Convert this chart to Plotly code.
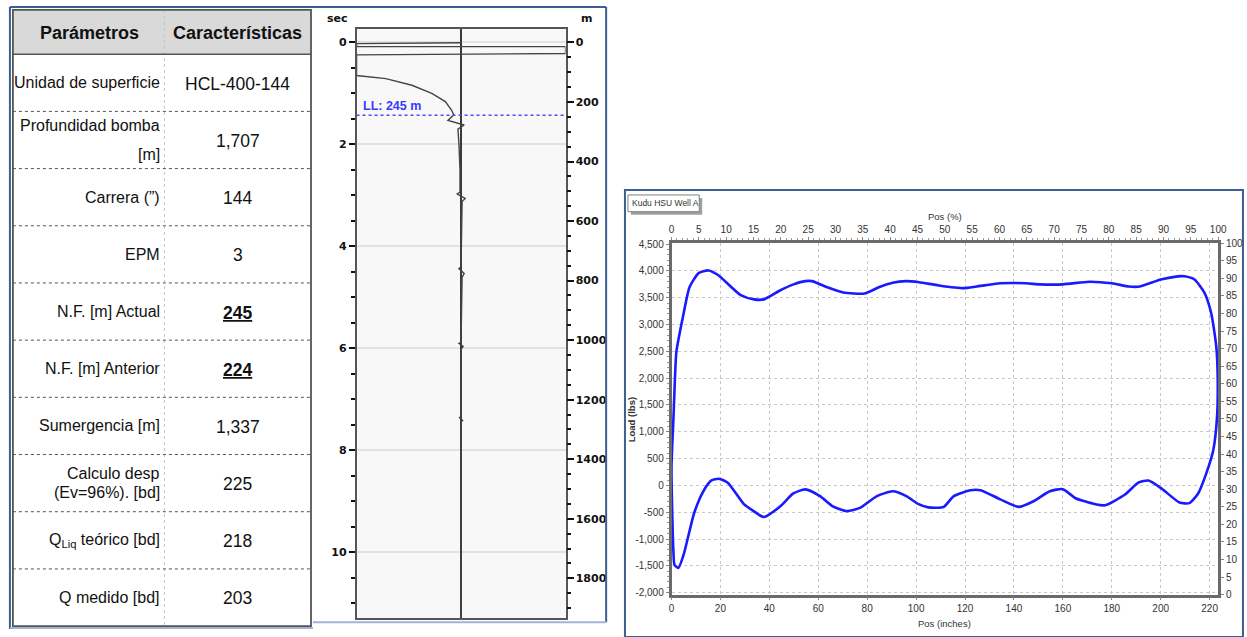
import plotly.graph_objects as go

W, H = 1247, 637

# ---------------- data ----------------
table_headers = ["Parámetros", "Características"]
param_labels = ["Unidad de superficie", "Profundidad bomba<br>[m]", "Carrera (”)", "EPM",
                "N.F. [m] Actual", "N.F. [m] Anterior", "Sumergencia [m]",
                "Calculo desp<br>(Ev=96%). [bd]", "Q<sub>Liq</sub> teórico [bd]", "Q medido [bd]"]
param_values = ["HCL-400-144", "1,707", "144", "3", "245", "224", "1,337", "225", "218", "203"]

# acoustic (echometer) trace: amplitude (normalised) vs time (sec)
echo_amp = [0.0, -1.0, -1.0, 1.0, 1.0, -1.0, -1.0, -0.72, -0.47, -0.28, -0.15, -0.09, -0.07,
            -0.125, 0.03, -0.03, -0.02, -0.01, -0.01, -0.04, 0.04, 0.01, 0.0, -0.02, 0.03, 0.01,
            0.0, -0.02, 0.02, 0.0, 0.0, -0.015, 0.015, 0.0, 0.0]
echo_sec = [0.006, 0.025, 0.083, 0.083, 0.218, 0.245, 0.65, 0.71, 0.84, 1.00, 1.16, 1.33, 1.42,
            1.53, 1.62, 1.70, 2.0, 2.5, 2.94, 2.97, 3.06, 3.12, 4.4, 4.44, 4.53, 4.61,
            5.88, 5.9, 5.96, 6.02, 7.33, 7.36, 7.41, 7.45, 11.29]
liquid_level_m = 245
liquid_level_label = "LL: 245 m"
sec_ticks = [0, 2, 4, 6, 8, 10]
m_ticks = [0, 200, 400, 600, 800, 1000, 1200, 1400, 1600, 1800]

# dynamometer card
card_title = "Kudu HSU Well A"
card_pos_in = [0, 0.8, 1.2, 2.0, 4.7, 7.4, 11.1, 15.1, 18.9, 28.3, 33.7, 37.8, 44.5, 49.9, 54.7,
               57.4, 63.4, 70.2, 78.9, 85.0, 90.4, 95.8, 101.2, 109.3, 119.4, 124.7, 134.4, 145.0,
               150.6, 160.0, 170.9, 180.0, 187.0, 191.5, 200.0, 207.0, 209.7, 213.8, 217.8, 220.6,
               222.7, 223.3, 223.0, 221.5, 218.6, 215.3, 211.7, 207.7, 200.4, 195.0, 191.0, 185.4,
               177.3, 173.3, 165.2, 160.0, 154.7, 147.8, 142.0, 134.4, 126.3, 122.3, 115.4, 111.3,
               105.0, 101.0, 96.0, 90.5, 84.0, 77.0, 71.7, 66.0, 60.7, 54.7, 49.8, 44.5, 37.7,
               33.6, 29.6, 23.0, 19.4, 16.2, 13.0, 9.3, 6.9, 4.9, 2.8, 1.2, 0.8, 0.4, 0]
card_load_lbs = [350, 1260, 1750, 2490, 3150, 3700, 3960, 4010, 3930, 3550, 3470, 3470, 3640, 3750,
                 3810, 3810, 3700, 3600, 3580, 3700, 3780, 3810, 3790, 3730, 3680, 3710, 3770, 3770,
                 3750, 3750, 3800, 3770, 3710, 3710, 3840, 3900, 3900, 3840, 3600, 3220, 2600, 2000,
                 1260, 660, 220, -150, -330, -320, -60, 90, 55, -170, -370, -350, -240, -70, -110,
                 -300, -400, -260, -90, -90, -200, -400, -410, -350, -200, -110, -200, -420, -480,
                 -390, -200, -75, -150, -390, -590, -480, -350, 50, 125, 90, -110, -510, -940,
                 -1300, -1540, -1480, -1250, -700, 350]
load_ticks = [-2000, -1500, -1000, -500, 0, 500, 1000, 1500, 2000, 2500, 3000, 3500, 4000, 4500]
load_ticklabels = [f"{v:,}" for v in load_ticks]
pos_ticks = [0, 20, 40, 60, 80, 100, 120, 140, 160, 180, 200, 220]
pct_ticks = list(range(0, 101, 5))

assert len(card_pos_in) == len(card_load_lbs)
assert len(echo_amp) == len(echo_sec)


# ---------------- layout helpers (pixel -> paper fraction) ----------------
def px(x):
    return x / W


def py(y):
    return 1 - y / H


BLUE = "#3c5e92"
LIGHTBLUE = "#9fb5d8"
GRID_DARK = "#555555"
SANS = "Liberation Sans, Arial"

fig = go.Figure()

# echometer trace
fig.add_trace(go.Scatter(x=echo_amp, y=echo_sec, xaxis="x", yaxis="y", mode="lines",
                         line=dict(color="#444444", width=1.4), showlegend=False, hoverinfo="skip"))
# dyna card
fig.add_trace(go.Scatter(x=card_pos_in, y=card_load_lbs, xaxis="x3", yaxis="y3", mode="lines",
                         line=dict(color="#1a1aff", width=2.6, shape="spline", smoothing=0.6),
                         showlegend=False, hoverinfo="skip"))
# register secondary axes
fig.add_trace(go.Scatter(x=[None], y=[None], xaxis="x", yaxis="y2", showlegend=False, hoverinfo="skip"))
fig.add_trace(go.Scatter(x=[None], y=[None], xaxis="x4", yaxis="y4", showlegend=False, hoverinfo="skip"))

shapes = []
annotations = []

# ---------- panel frames ----------
shapes += [
    dict(type="line", xref="paper", yref="paper", x0=px(7), x1=px(7), y0=py(2), y1=py(634),
         line=dict(color=BLUE, width=2)),
    dict(type="line", xref="paper", yref="paper", x0=px(7), x1=px(609), y0=py(2), y1=py(2),
         line=dict(color=BLUE, width=2)),
    dict(type="line", xref="paper", yref="paper", x0=px(7), x1=px(313), y0=py(633), y1=py(633),
         line=dict(color=LIGHTBLUE, width=2)),
    dict(type="line", xref="paper", yref="paper", x0=px(609), x1=px(609), y0=py(2), y1=py(627),
         line=dict(color=BLUE, width=2)),
    dict(type="line", xref="paper", yref="paper", x0=px(313), x1=px(609), y0=py(627), y1=py(627),
         line=dict(color=LIGHTBLUE, width=2)),
    dict(type="rect", xref="paper", yref="paper", x0=px(628), x1=px(1252), y0=py(188), y1=py(642),
         line=dict(color=BLUE, width=2)),
]

# ---------- table ----------
T_LEFT, T_RIGHT, T_TOP, T_HEAD, T_BOTTOM, T_COL = 10, 311, 5, 50, 631, 163
n_rows = len(param_labels)
row_h = (T_BOTTOM - T_HEAD) / n_rows
shapes.append(dict(type="rect", xref="paper", yref="paper", x0=px(T_LEFT), x1=px(T_RIGHT),
                   y0=py(T_TOP), y1=py(T_HEAD), fillcolor="#d9d9d9", line=dict(width=0), layer="below"))
shapes.append(dict(type="line", xref="paper", yref="paper", x0=px(T_COL), x1=px(T_COL),
                   y0=py(T_TOP), y1=py(T_BOTTOM), line=dict(color="#c4c4c4", width=1, dash="dot")))
for i in range(1, n_rows):
    yy = T_HEAD + i * row_h
    shapes.append(dict(type="line", xref="paper", yref="paper", x0=px(T_LEFT), x1=px(T_RIGHT),
                       y0=py(yy), y1=py(yy), line=dict(color="#555555", width=1, dash="dot")))
shapes.append(dict(type="line", xref="paper", yref="paper", x0=px(T_LEFT), x1=px(T_RIGHT),
                   y0=py(T_HEAD), y1=py(T_HEAD), line=dict(color="#555555", width=1.5)))
shapes.append(dict(type="rect", xref="paper", yref="paper", x0=px(T_LEFT), x1=px(T_RIGHT),
                   y0=py(T_TOP), y1=py(T_BOTTOM), line=dict(color="#555555", width=1.8)))

for txt, cx in zip(table_headers, [87, 237]):
    annotations.append(dict(xref="paper", yref="paper", x=px(cx), y=py(28),
                            text=f"<b>{txt}</b>", showarrow=False, xanchor="center", yanchor="middle",
                            font=dict(family=SANS, size=18, color="#111111")))

line_gap = {1: 29, 7: 19}
emphasised = {4, 5}
for i, (lab, val) in enumerate(zip(param_labels, param_values)):
    cy = T_HEAD + (i + 0.5) * row_h
    parts = lab.split("<br>")
    gap = line_gap.get(i, 0)
    for k, part in enumerate(parts):
        yy = cy + (k - (len(parts) - 1) / 2) * gap
        annotations.append(dict(xref="paper", yref="paper", x=px(161), y=py(yy), text=part,
                                showarrow=False, xanchor="right", yanchor="middle",
                                font=dict(family=SANS, size=16, color="#111111")))
    vtxt = f"<b><u>{val}</u></b>" if i in emphasised else val
    annotations.append(dict(xref="paper", yref="paper", x=px(237), y=py(cy + 1), text=vtxt,
                            showarrow=False, xanchor="center", yanchor="middle",
                            font=dict(family=SANS, size=17.5, color="#111111")))

# ---------- echometer ----------
shapes.append(dict(type="rect", xref="x domain", yref="y domain", x0=0, x1=1, y0=0, y1=1,
                   fillcolor="#f8f8f8", line=dict(width=0), layer="below"))
shapes.append(dict(type="line", xref="x domain", yref="y2", x0=0, x1=1,
                   y0=liquid_level_m, y1=liquid_level_m,
                   line=dict(color="#4a4aff", width=1.5, dash="dot")))
annotations.append(dict(xref="x domain", yref="y2", x=0.02, y=liquid_level_m,
                        text=f"<b>{liquid_level_label}</b>",
                        showarrow=False, xanchor="left", yanchor="bottom",
                        font=dict(family=SANS, size=12.5, color="#3a3aff")))
annotations.append(dict(xref="paper", yref="paper", x=px(338), y=py(14), text="<b>sec</b>", showarrow=False,
                        xanchor="center", yanchor="middle", font=dict(family="DejaVu Sans", size=11, color="#111")))
annotations.append(dict(xref="paper", yref="paper", x=px(589), y=py(14), text="<b>m</b>", showarrow=False,
                        xanchor="center", yanchor="middle", font=dict(family="DejaVu Sans", size=11, color="#111")))

echo_tickfont = dict(family="DejaVu Sans", size=11, color="#111111", weight="bold")

# ---------- dyna card decorations ----------
shapes.append(dict(type="rect", xref="paper", yref="paper", x0=px(634), x1=px(706), y0=py(196), y1=py(213),
                   fillcolor="#a0a0a0", line=dict(width=0)))
shapes.append(dict(type="rect", xref="paper", yref="paper", x0=px(631), x1=px(703), y0=py(193), y1=py(210),
                   fillcolor="white", line=dict(color="#808080", width=1)))
annotations.append(dict(xref="paper", yref="paper", x=px(633), y=py(201.5), text=card_title, showarrow=False,
                        xanchor="left", yanchor="middle", font=dict(family=SANS, size=8.5, color="#333")))
annotations.append(dict(xref="paper", yref="paper", x=px(951), y=py(215), text="Pos (%)", showarrow=False,
                        xanchor="center", yanchor="middle", font=dict(family=SANS, size=9.5, color="#333")))
annotations.append(dict(xref="paper", yref="paper", x=px(951), y=py(628), text="Pos (inches)", showarrow=False,
                        xanchor="center", yanchor="middle", font=dict(family=SANS, size=9.5, color="#333")))
annotations.append(dict(xref="paper", yref="paper", x=px(634), y=py(421), text="<b>Load (lbs)</b>",
                        showarrow=False, textangle=-90, xanchor="center", yanchor="middle",
                        font=dict(family=SANS, size=9.5, color="#333")))

card_tickfont = dict(family=SANS, size=10, color="#333333")
FRAME = "#6a6a6a"

fig.update_layout(
    width=W, height=H, margin=dict(l=0, r=0, t=0, b=0),
    paper_bgcolor="white", plot_bgcolor="rgba(0,0,0,0)",
    showlegend=False,
    shapes=shapes, annotations=annotations,
    xaxis=dict(domain=[px(357), px(568)], anchor="y", range=[-1, 1], showticklabels=False, ticks="",
               showgrid=False, zeroline=True, zerolinecolor="#3a3a3a", zerolinewidth=1.5,
               showline=True, mirror=True, linecolor=GRID_DARK, linewidth=1.5, fixedrange=True),
    yaxis=dict(domain=[py(623), py(24)], anchor="x", range=[11.29, -0.27], tickvals=sec_ticks,
               ticks="outside", ticklen=6, tickwidth=2, tickcolor="#111", tickfont=echo_tickfont,
               showgrid=True, gridcolor="#e2e2e2", gridwidth=2, zeroline=False,
               showline=True, mirror=True, linecolor=GRID_DARK, linewidth=1.5,
               minor=dict(dtick=0.5, tick0=0, ticks="outside", ticklen=4, tickwidth=2, tickcolor="#111",
                          showgrid=False)),
    yaxis2=dict(overlaying="y", side="right", anchor="x", range=[1934, -46.3], tickvals=m_ticks,
                ticks="outside", ticklen=7, tickwidth=2, tickcolor="#111", tickfont=echo_tickfont,
                showgrid=False, zeroline=False, showline=False,
                minor=dict(dtick=50, tick0=0, ticks="outside", ticklen=4, tickwidth=2, tickcolor="#111",
                           showgrid=False)),
    xaxis3=dict(domain=[px(675), px(1227)], anchor="y3", range=[0, 223.5], tickvals=pos_ticks,
                ticks="outside", ticklen=3, tickcolor="#888", tickfont=card_tickfont,
                showgrid=True, gridcolor="#c8c8c8", griddash="dot", gridwidth=1, zeroline=False,
                showline=True, linecolor=FRAME, linewidth=2.5),
    yaxis3=dict(domain=[py(599), py(242)], anchor="x3", range=[-2037, 4518], tickvals=load_ticks,
                ticktext=load_ticklabels, ticks="outside", ticklen=3, tickcolor="#888", tickfont=card_tickfont,
                showgrid=True, gridcolor="#c8c8c8", griddash="dot", gridwidth=1, zeroline=False,
                showline=True, linecolor=FRAME, linewidth=2.5,
                minor=dict(dtick=100, tick0=0, ticks="outside", ticklen=2, tickcolor="#999", showgrid=False)),
    xaxis4=dict(overlaying="x3", side="top", anchor="y3", range=[0, 100], tickvals=pct_ticks,
                ticks="outside", ticklen=3, tickcolor="#888", tickfont=card_tickfont,
                showgrid=False, zeroline=False, showline=True, linecolor=FRAME, linewidth=2.5,
                minor=dict(dtick=1, tick0=0, ticks="outside", ticklen=2, tickcolor="#999", showgrid=False)),
    yaxis4=dict(overlaying="y3", side="right", anchor="x3", range=[0, 100], tickvals=pct_ticks,
                ticks="outside", ticklen=3, tickcolor="#888", tickfont=card_tickfont,
                showgrid=False, zeroline=False, showline=True, linecolor=FRAME, linewidth=2.5),
)

fig.write_html(
    "out.html",
    config={"displayModeBar": False},
    post_script=("document.body.style.margin='0';"
                 "document.body.style.overflow='hidden';"
                 "document.documentElement.style.overflow='hidden';"),
)
